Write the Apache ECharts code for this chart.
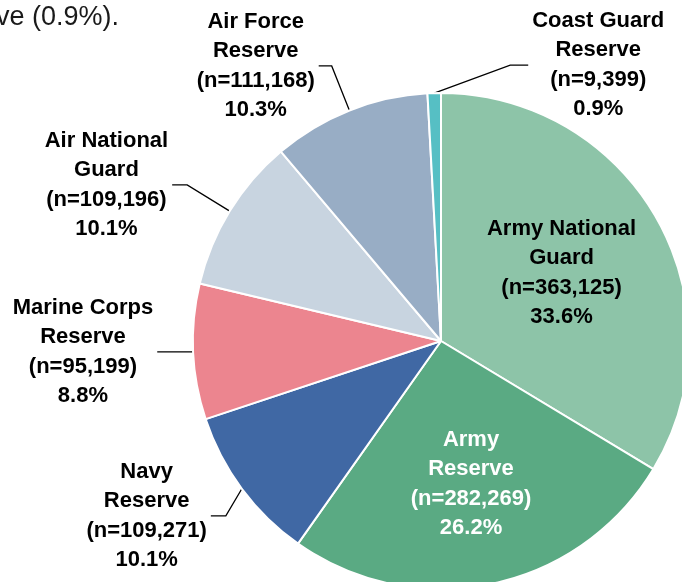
<!DOCTYPE html>
<html>
<head>
<meta charset="utf-8">
<script src="https://cdn.jsdelivr.net/npm/echarts@6/dist/echarts.min.js"></script>
<style>
  html, body { margin: 0; padding: 0; background: #ffffff; }
  #chart { width: 682px; height: 582px; }
</style>
</head>
<body>
<div id="chart"></div>
<script>
// ---- data ----
const categories = [
  'Army National\nGuard',
  'Army\nReserve',
  'Navy\nReserve',
  'Marine Corps\nReserve',
  'Air National\nGuard',
  'Air Force\nReserve',
  'Coast Guard\nReserve'
];
const counts = [363125, 282269, 109271, 95199, 109196, 111168, 9399];
const percents = ['33.6', '26.2', '10.1', '8.8', '10.1', '10.3', '0.9'];
const introText = 've (0.9%).';

// ---- styling / layout (not data) ----
const colors = ['#8dc4a8', '#5aaa83', '#4068a4', '#ec858f', '#c8d4e0', '#98adc5', '#56bfc4'];
const labelColors = ['#000000', '#ffffff', '#000000', '#000000', '#000000', '#000000', '#000000'];
const insideLabel = [true, true, false, false, false, false, false];
const innerScale = [1.09, 1.15, 1, 1, 1, 1, 1];
const lineLen1 = [0, 0, 29, 2, 50, 48, 20];
const lineLen2 = [0, 0, 15, 34, 15, 13, 18];
// elbow offsets (relative to the slice edge point) for leader lines that are not radial
const elbowOffset = { 2: [-16, 27], 6: [76, -28] };
const elbowSide = { 2: -1, 6: 1 };

const CX = 441, CY = 341, R = 248;
const GAP = 4;

const chart = echarts.init(document.getElementById('chart'), null, { renderer: 'canvas' });

const seriesData = categories.map((name, i) => ({
  name: name,
  value: counts[i],
  itemStyle: { color: colors[i] },
  label: {
    position: insideLabel[i] ? 'inside' : 'outside',
    color: labelColors[i]
  },
  labelLine: { show: !insideLabel[i], length: lineLen1[i], length2: lineLen2[i] }
}));

chart.setOption({
  animation: false,
  graphic: [{
    type: 'text',
    left: -4,
    top: 4,
    style: { text: introText, font: '27px "Liberation Sans", Arial, sans-serif', fill: '#1a1a1a' }
  }],
  series: [{
    type: 'pie',
    center: [CX, CY],
    radius: [0, R],
    startAngle: 90,
    clockwise: true,
    avoidLabelOverlap: false,
    silent: true,
    itemStyle: { borderColor: '#ffffff', borderWidth: 2 },
    label: {
      fontFamily: '"Liberation Sans", Arial, sans-serif',
      fontWeight: 'bold',
      fontSize: 22,
      lineHeight: 29.5,
      align: 'center',
      formatter: function (p) {
        return p.name + '\n(n=' + counts[p.dataIndex].toLocaleString('en-US') + ')\n' + percents[p.dataIndex] + '%';
      }
    },
    labelLine: {
      smooth: false,
      lineStyle: { color: '#000000', width: 1.3 }
    },
    emphasis: { disabled: true },
    labelLayout: function (p) {
      const i = p.dataIndex;
      const w = p.labelRect.width;
      const h = p.labelRect.height;
      if (insideLabel[i]) {
        const lx = p.labelRect.x + w / 2;
        const ly = p.labelRect.y + h / 2;
        return {
          x: CX + (lx - CX) * innerScale[i],
          y: CY + (ly - CY) * innerScale[i],
          align: 'center',
          verticalAlign: 'middle'
        };
      }
      const pts = p.labelLinePoints;
      let p1 = pts[0], p2 = pts[1], p3 = pts[2];
      let side = p3[0] < p2[0] ? -1 : 1;
      if (elbowOffset[i]) {
        side = elbowSide[i];
        p2 = [p1[0] + elbowOffset[i][0], p1[1] + elbowOffset[i][1]];
        p3 = [p2[0] + side * lineLen2[i], p2[1]];
      }
      return {
        x: p3[0] + side * (GAP + w / 2),
        y: p3[1],
        align: 'center',
        verticalAlign: 'middle',
        labelLinePoints: [p1, p2, p3]
      };
    },
    data: seriesData
  }]
});
</script>
</body>
</html>
